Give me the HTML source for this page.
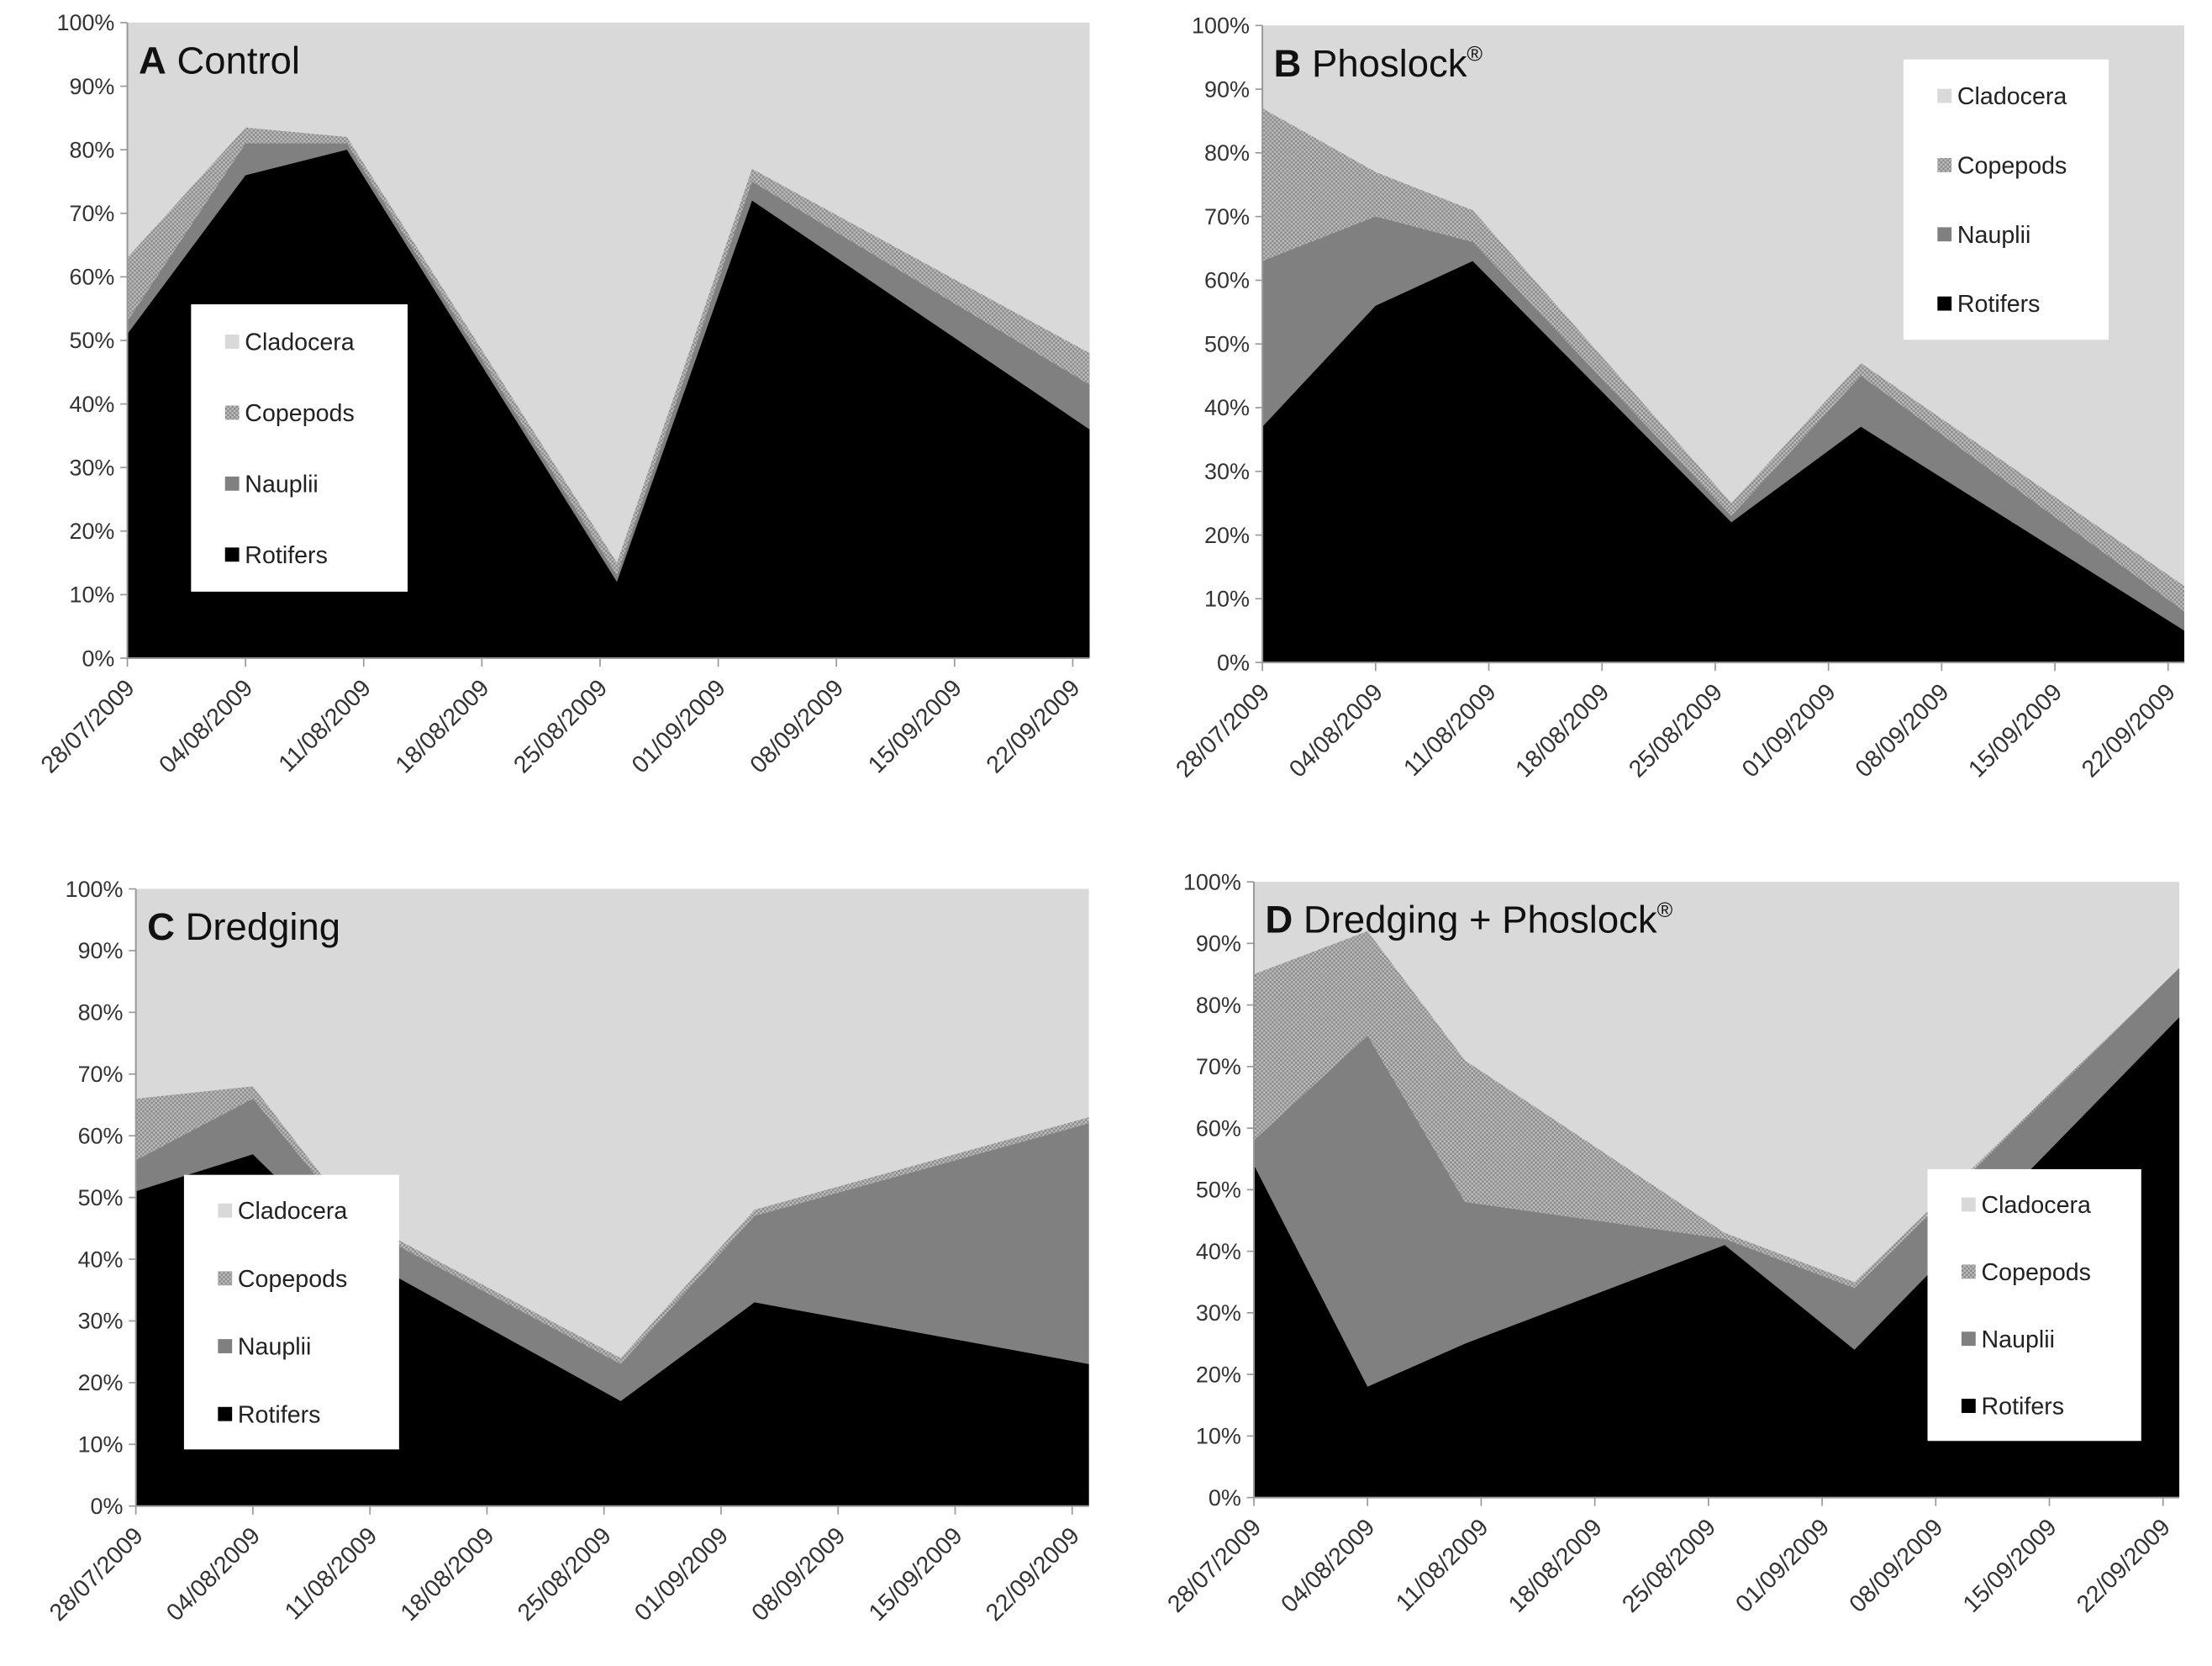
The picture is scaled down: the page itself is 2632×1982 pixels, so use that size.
<!DOCTYPE html>
<html><head><meta charset="utf-8"><style>
html,body{margin:0;padding:0;background:#fff}
svg{display:block}
text{font-family:"Liberation Sans",sans-serif}
</style></head><body>
<svg id="chart" width="2632" height="1982" viewBox="0 0 1563 1177" preserveAspectRatio="none" xmlns="http://www.w3.org/2000/svg">
<defs>
<pattern id="stip" width="3" height="3" patternUnits="userSpaceOnUse">
<rect width="3" height="3" fill="#bdbdbd"/><rect width="1.5" height="1.5" fill="#8a8a8a"/><rect x="1.5" y="1.5" width="1.5" height="1.5" fill="#8a8a8a"/>
</pattern>
</defs>
</svg>
<script>
const tickLabels = ["28/07/2009","04/08/2009","11/08/2009","18/08/2009","25/08/2009","01/09/2009","08/09/2009","15/09/2009","22/09/2009"];
const yTicks = [0,10,20,30,40,50,60,70,80,90,100];
const seriesNames = ["Cladocera","Copepods","Nauplii","Rotifers"];
const sampleDays = [0,7,13,29,37,57];
// cumulative percentages
const aRotifers = [51,76,80,12,72,36];
const aNauplii  = [53,81,81,13,75,43];
const aCopepods = [63,83.5,82,15,77,48];
const bRotifers = [37,56,63,22,37,5];
const bNauplii  = [63,70,66,23,45,8];
const bCopepods = [87,77,71,25,47,12];
const cRotifers = [51,57,41,17,33,23];
const cNauplii  = [56,66,46,23,47,62];
const cCopepods = [66,68,47,24,48,63];
const dRotifers = [54,18,25,41,24,78];
const dNauplii  = [58,75,48,42,34,86];
const dCopepods = [85,92,71,43,35,86];

const panels = [
 {id:"a",title:"A",sub:" Control",reg:false,x0:90,tick0:90,tickW:83.5,y0:465,y1:16,rot:aRotifers,nau:aNauplii,cop:aCopepods,leg:[135,215,153,203]},
 {id:"b",title:"B",sub:" Phoslock",reg:true,x0:892,tick0:892,tickW:80,y0:468,y1:18,rot:bRotifers,nau:bNauplii,cop:bCopepods,leg:[1345,42,145,198]},
 {id:"c",title:"C",sub:" Dredging",reg:false,x0:96,tick0:96,tickW:82.7,y0:1064,y1:628,rot:cRotifers,nau:cNauplii,cop:cCopepods,leg:[130,830,152,194]},
 {id:"d",title:"D",sub:" Dredging + Phoslock",reg:true,x0:886,tick0:886,tickW:80.3,y0:1058,y1:623,rot:dRotifers,nau:dNauplii,cop:dCopepods,leg:[1362,826,151,192]}
];
const NS="http://www.w3.org/2000/svg";
const svg=document.getElementById('chart');
function mk(tag,attrs,parent){const e=document.createElementNS(NS,tag);for(const k in attrs)e.setAttribute(k,attrs[k]);(parent||svg).appendChild(e);return e;}

panels.forEach(p=>{
  const g=mk('g',{});
  
  
  const xs=d=>p.tick0+d*p.tickW/7;
  const ys=v=>p.y0+(p.y1-p.y0)*v/100;
  const lastX=xs(sampleDays[sampleDays.length-1]);
  const bg=mk('rect',{x:p.x0,y:p.y1,width:lastX-p.x0,height:p.y0-p.y1,fill:'#d9d9d9'},g);
  
  
  function area(vals,fill,name){
    let d='M'+xs(sampleDays[0])+','+p.y0;
    vals.forEach((v,i)=>{d+=' L'+xs(sampleDays[i]).toFixed(1)+','+ys(v).toFixed(1);});
    d+=' L'+lastX+','+p.y0+' Z';
    const e=mk('path',{d:d,fill:fill},g);
    
    
  }
  area(p.cop,'url(#stip)','area-copepods');
  area(p.nau,'#808080','area-nauplii');
  area(p.rot,'#000000','area-rotifers');
  mk('line',{x1:p.x0,y1:p.y1,x2:p.x0,y2:p.y0,stroke:'#999','stroke-width':1.2},g);
  mk('line',{x1:p.x0,y1:p.y0,x2:lastX,y2:p.y0,stroke:'#999','stroke-width':1.2},g);
  yTicks.forEach(t=>{
    mk('line',{x1:p.x0-5,y1:ys(t),x2:p.x0,y2:ys(t),stroke:'#999'},g);
    const tx=mk('text',{x:p.x0-9,y:ys(t)+5.5,'text-anchor':'end','font-size':16,fill:'#333'},g);
    tx.textContent=t+'%';
    
    
  });
  tickLabels.forEach((l,i)=>{
    const x=p.tick0+i*p.tickW;
    mk('line',{x1:x,y1:p.y0,x2:x,y2:p.y0+6,stroke:'#999'},g);
    const ax=x+6, ay=p.y0+22;
    const tx=mk('text',{x:ax,y:ay,'text-anchor':'end','font-size':17,fill:'#333',transform:'rotate(-45 '+ax+' '+ay+')'},g);
    tx.textContent=l;
    
    
  });
  const tt=mk('text',{x:p.x0+8,y:p.y1+36,'font-size':27,fill:'#111'},g);
  
  
  const b=mk('tspan',{'font-weight':'bold'},tt);b.textContent=p.title;
  const s=mk('tspan',{},tt);s.textContent=p.sub;
  if(p.reg){const r=mk('tspan',{'font-size':15,dy:-11},tt);r.textContent='®';}
  const [lx,ly,lw,lh]=p.leg;
  const lg=mk('g',{},g);
  
  
  mk('rect',{x:lx,y:ly,width:lw,height:lh,fill:'#fff'},lg);
  const fills=['#d9d9d9','url(#stip)','#808080','#000'];
  seriesNames.forEach((n,i)=>{
    const cy=ly+lh*(0.13+i*0.247);
    const e=mk('g',{},lg);
    
    
    mk('rect',{x:lx+24,y:cy-5,width:10,height:10,fill:fills[i]},e);
    const t=mk('text',{x:lx+38,y:cy+6,'font-size':17,fill:'#222'},e);
    t.textContent=n;
  });
});
</script>
</body></html>
